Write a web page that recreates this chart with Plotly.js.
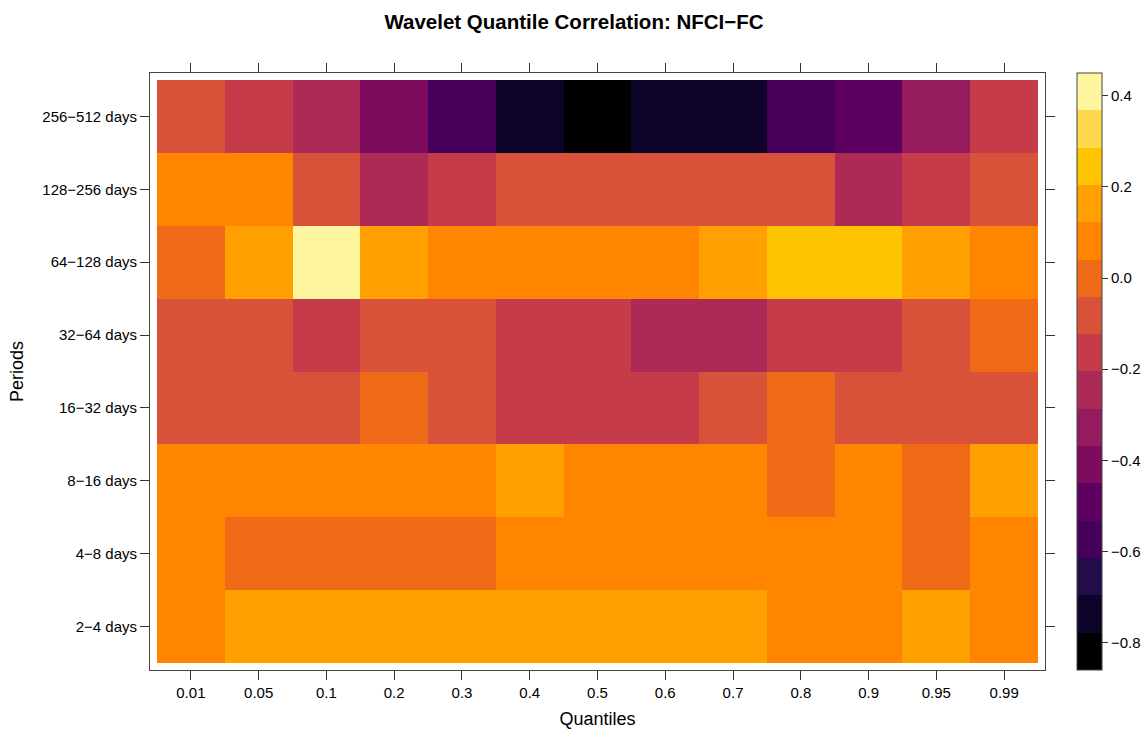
<!DOCTYPE html>
<html>
<head>
<meta charset="utf-8">
<script src="https://cdn.plot.ly/plotly-3.0.1.min.js"></script>
<style>
  html, body { margin: 0; padding: 0; background: #ffffff; }
  #chart { width: 1148px; height: 729px; }
</style>
</head>
<body>
<div id="chart"></div>
<script>
// Quantile levels along the x axis
const quantiles = ['0.01', '0.05', '0.1', '0.2', '0.3', '0.4', '0.5', '0.6', '0.7', '0.8', '0.9', '0.95', '0.99'];

// Wavelet scales along the y axis (bottom to top)
const periods = ['2\u22124 days', '4\u22128 days', '8\u221216 days', '16\u221232 days',
                 '32\u221264 days', '64\u2212128 days', '128\u2212256 days', '256\u2212512 days'];

// Correlation per period, one value per quantile
const corr_2_4     = [0.10, 0.17, 0.16, 0.18, 0.15, 0.16, 0.17, 0.15, 0.14, 0.08, 0.07, 0.15, 0.09];
const corr_4_8     = [0.08, -0.01, 0.00, 0.02, 0.01, 0.07, 0.08, 0.09, 0.08, 0.07, 0.06, 0.00, 0.09];
const corr_8_16    = [0.07, 0.08, 0.09, 0.08, 0.06, 0.16, 0.09, 0.08, 0.07, 0.02, 0.08, 0.01, 0.15];
const corr_16_32   = [-0.09, -0.08, -0.07, 0.01, -0.08, -0.16, -0.17, -0.15, -0.09, 0.00, -0.08, -0.07, -0.09];
const corr_32_64   = [-0.08, -0.09, -0.16, -0.07, -0.08, -0.17, -0.15, -0.24, -0.23, -0.16, -0.17, -0.09, -0.01];
const corr_64_128  = [0.01, 0.17, 0.45, 0.18, 0.09, 0.08, 0.10, 0.07, 0.16, 0.26, 0.25, 0.15, 0.09];
const corr_128_256 = [0.07, 0.09, -0.07, -0.24, -0.17, -0.09, -0.08, -0.10, -0.07, -0.06, -0.25, -0.15, -0.08];
const corr_256_512 = [-0.09, -0.17, -0.25, -0.42, -0.58, -0.74, -0.86, -0.75, -0.73, -0.57, -0.50, -0.33, -0.15];

// Colorbar tick values
const barTicks = [-0.8, -0.6, -0.4, -0.2, 0.0, 0.2, 0.4];

// Sixteen colour levels, from lowest to highest
const levelColors = ['#000000', '#0e0328', '#240b4a', '#46005b', '#5d005f', '#7d0c5e',
                     '#941b5d', '#ad2a57', '#c53b4a', '#d8523a', '#ef6a17', '#ff8500',
                     '#ffa000', '#ffc400', '#ffd94c', '#fff79f'];

const zRange = [-0.86, 0.45];

// Stepped colour scale: each level covers an equal share of the range
const stepScale = [];
levelColors.forEach((c, i) => {
  stepScale.push([i / levelColors.length, c]);
  stepScale.push([(i + 1) / levelColors.length, c]);
});

const z = [corr_2_4, corr_4_8, corr_8_16, corr_16_32, corr_32_64, corr_64_128, corr_128_256, corr_256_512];

const fontFamily = 'Liberation Sans, Arial, sans-serif';

const trace = {
  type: 'heatmap',
  x: quantiles,
  y: periods,
  z: z,
  zmin: zRange[0],
  zmax: zRange[1],
  colorscale: stepScale,
  colorbar: {
    x: (1077 - 150) / 895,
    xanchor: 'left',
    xpad: 0,
    ypad: 0,
    y: 0.5,
    yanchor: 'middle',
    len: 1,
    lenmode: 'fraction',
    thickness: 25,
    thicknessmode: 'pixels',
    outlinewidth: 1,
    outlinecolor: '#444444',
    ticks: 'outside',
    ticklen: 6,
    tickwidth: 1,
    tickcolor: '#333333',
    tickvals: barTicks,
    tickformat: '.1f',
    tickfont: { family: fontFamily, size: 15, color: '#000000' }
  }
};

const axisFont = { family: fontFamily, size: 15, color: '#000000' };
const axisTitleFont = { family: fontFamily, size: 18, color: '#000000' };

const layout = {
  width: 1148,
  height: 729,
  margin: { l: 150, r: 103, t: 73, b: 59, autoexpand: false },
  paper_bgcolor: '#ffffff',
  plot_bgcolor: '#ffffff',
  font: { family: fontFamily, color: '#000000' },
  title: {
    text: '<b>Wavelet Quantile Correlation: NFCI\u2212FC</b>',
    font: { family: fontFamily, size: 20.5, color: '#000000' },
    x: 0.5,
    xref: 'container',
    xanchor: 'center',
    y: 1 - 22 / 729,
    yref: 'container',
    yanchor: 'middle'
  },
  xaxis: {
    type: 'category',
    range: [-0.603, 12.603],
    showgrid: false,
    zeroline: false,
    showline: true,
    linecolor: '#444444',
    linewidth: 1,
    mirror: 'ticks',
    ticks: 'outside',
    ticklen: 9,
    tickwidth: 1,
    tickcolor: '#333333',
    tickfont: axisFont,
    automargin: false,
    title: { text: 'Quantiles', font: axisTitleFont, standoff: 13 }
  },
  yaxis: {
    type: 'category',
    range: [-0.596, 7.596],
    showgrid: false,
    zeroline: false,
    showline: true,
    linecolor: '#444444',
    linewidth: 1,
    mirror: 'ticks',
    ticks: 'outside',
    ticklen: 9,
    tickwidth: 1,
    tickcolor: '#333333',
    tickfont: axisFont,
    automargin: false,
    title: { text: 'Periods', font: axisTitleFont, standoff: 14 }
  }
};

Plotly.newPlot('chart', [trace], layout, { displayModeBar: false, staticPlot: true });
</script>
</body>
</html>
